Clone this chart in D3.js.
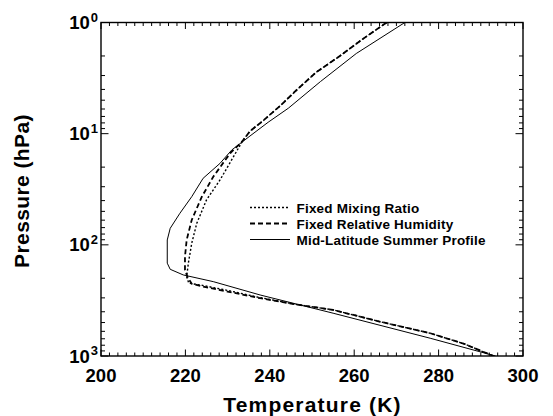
<!DOCTYPE html>
<html>
<head>
<meta charset="utf-8">
<script src="https://cdn.jsdelivr.net/npm/d3@7"></script>
<style>
  html, body { margin: 0; padding: 0; background: #fff; }
  svg { display: block; }
  text { font-family: "Liberation Sans", Arial, Helvetica, sans-serif; font-weight: bold; fill: #000; }
</style>
</head>
<body>
<div id="chart"></div>
<script>
// ---- Data (temperature K, pressure hPa) ----
const seriesNames = ["Fixed Mixing Ratio", "Fixed Relative Humidity", "Mid-Latitude Summer Profile"];

const mixingRatioT = [267.7, 262.0, 256.6, 251.0, 246.5, 242.5, 238.5, 235.3, 233.5, 231.4, 228.2, 225.0, 222.7, 221.5, 220.7, 220.3, 220.8, 223.5, 230.0, 237.7, 246.0, 255.0, 266.0, 278.0, 286.0, 293.0];
const mixingRatioP = [1.0, 1.41, 2.0, 2.8, 4.0, 5.6, 7.6, 9.5, 11.7, 16.1, 26.1, 39.4, 64.0, 96.8, 146.2, 193.2, 221.3, 229.6, 257, 298.5, 342.8, 384.6, 490, 623.7, 776, 1000];

const relHumidityT = [267.7, 262.0, 256.6, 251.0, 246.5, 242.5, 238.5, 235.3, 233.5, 230.6, 226.6, 223.9, 221.5, 220.3, 219.9, 219.9, 220.5, 221.5, 224.0, 230.0, 237.7, 246.0, 255.0, 266.0, 278.0, 286.0, 293.0];
const relHumidityP = [1.0, 1.41, 2.0, 2.8, 4.0, 5.6, 7.6, 9.5, 11.7, 15.0, 24.4, 36.9, 59.7, 90.4, 127.6, 168.3, 195, 224, 237, 263, 302, 342.8, 384.6, 490, 623.7, 776, 1000];

const summerT = [272.0, 260.5, 252.0, 244.4, 239.6, 235.3, 231.0, 228.2, 224.2, 221.5, 218.7, 216.4, 215.7, 215.7, 216.4, 219.5, 226.6, 237.7, 255.0, 278.0, 293.5];
const summerP = [1.0, 1.9, 3.4, 5.9, 7.9, 10.5, 14.0, 18.5, 25.2, 36.9, 52.0, 71.0, 90.4, 146.2, 166, 186.6, 214.3, 282.5, 412, 692, 1000];

const xTickValues = [200, 220, 240, 260, 280, 300];
const yTickExponents = [0, 1, 2, 3];

// ---- Layout ----
const W = 553, H = 416;
const mLeft = 101, mRight = 523, mTop = 22.5, mBottom = 356;

const svg = d3.select("#chart").append("svg").attr("width", W).attr("height", H);

const x = d3.scaleLinear().domain([200, 300]).range([mLeft, mRight]);
const y = d3.scaleLog().domain([1, 1000]).range([mTop, mBottom]);

svg.append("clipPath").attr("id", "clip")
  .append("rect").attr("x", mLeft).attr("y", mTop).attr("width", mRight - mLeft).attr("height", mBottom - mTop);

// ---- Ticks (inside, all four sides) ----
const xMinor = d3.range(200, 300.01, 2);
const yMinor = [];
for (let e = 0; e < 3; e++) for (let k = 2; k <= 9; k++) yMinor.push(k * Math.pow(10, e));

const tickG = svg.append("g").attr("stroke", "#000").attr("stroke-width", 1);
xMinor.forEach(v => {
  const major = xTickValues.includes(Math.round(v));
  const len = major ? 6.5 : 3.5;
  tickG.append("line").attr("x1", x(v)).attr("x2", x(v)).attr("y1", mBottom).attr("y2", mBottom - len);
  tickG.append("line").attr("x1", x(v)).attr("x2", x(v)).attr("y1", mTop).attr("y2", mTop + len);
});
yMinor.forEach(v => {
  tickG.append("line").attr("x1", mLeft).attr("x2", mLeft + 4).attr("y1", y(v)).attr("y2", y(v));
  tickG.append("line").attr("x1", mRight).attr("x2", mRight - 4).attr("y1", y(v)).attr("y2", y(v));
});
yTickExponents.forEach(e => {
  const v = Math.pow(10, e);
  tickG.append("line").attr("x1", mLeft).attr("x2", mLeft + 7.5).attr("y1", y(v)).attr("y2", y(v));
  tickG.append("line").attr("x1", mRight).attr("x2", mRight - 7.5).attr("y1", y(v)).attr("y2", y(v));
});

// frame
svg.append("rect").attr("x", mLeft).attr("y", mTop).attr("width", mRight - mLeft).attr("height", mBottom - mTop)
  .attr("fill", "none").attr("stroke", "#000").attr("stroke-width", 1.4);

// ---- Tick labels ----
svg.append("g").selectAll("text").data(xTickValues).join("text")
  .attr("x", d => x(d)).attr("y", 381.5)
  .attr("text-anchor", "middle").attr("font-size", 18.5)
  .text(d => d);

const yl = svg.append("g").selectAll("text").data(yTickExponents).join("text")
  .attr("x", 98).attr("y", d => y(Math.pow(10, d)) + 6.5)
  .attr("text-anchor", "end").attr("font-size", 18.5);
yl.append("tspan").text("10");
yl.append("tspan").attr("font-size", 13).attr("dx", 1).attr("dy", -7.5).text(d => d);

// ---- Axis titles ----
svg.append("text").attr("x", 312.5).attr("y", 411.5).attr("text-anchor", "middle")
  .attr("font-size", 21).attr("letter-spacing", 1.2).text("Temperature (K)");
svg.append("text").attr("transform", "translate(29,191) rotate(-90)").attr("text-anchor", "middle")
  .attr("font-size", 21).attr("letter-spacing", 0.4).text("Pressure (hPa)");

// ---- Lines ----
const styles = [
  { dash: "2,2", width: 1.4 },
  { dash: "5,3", width: 1.8 },
  { dash: null, width: 1 }
];
const seriesData = [
  d3.zip(mixingRatioT, mixingRatioP),
  d3.zip(relHumidityT, relHumidityP),
  d3.zip(summerT, summerP)
];
const line = d3.line().x(d => x(d[0])).y(d => y(d[1]));
const plotG = svg.append("g").attr("clip-path", "url(#clip)");
seriesData.forEach((s, i) => {
  plotG.append("path").datum(s).attr("d", line)
    .attr("fill", "none").attr("stroke", "#000")
    .attr("stroke-width", styles[i].width)
    .attr("stroke-dasharray", styles[i].dash);
});

// ---- Legend ----
const legY = [207.5, 223.5, 239.5];
seriesNames.forEach((name, i) => {
  svg.append("line").attr("x1", 250).attr("x2", 290).attr("y1", legY[i]).attr("y2", legY[i])
    .attr("stroke", "#000").attr("stroke-width", styles[i].width)
    .attr("stroke-dasharray", styles[i].dash);
  svg.append("text").attr("x", 296.5).attr("y", legY[i] + 5)
    .attr("font-size", 13.5).attr("letter-spacing", 0.2).text(name);
});
</script>
</body>
</html>
